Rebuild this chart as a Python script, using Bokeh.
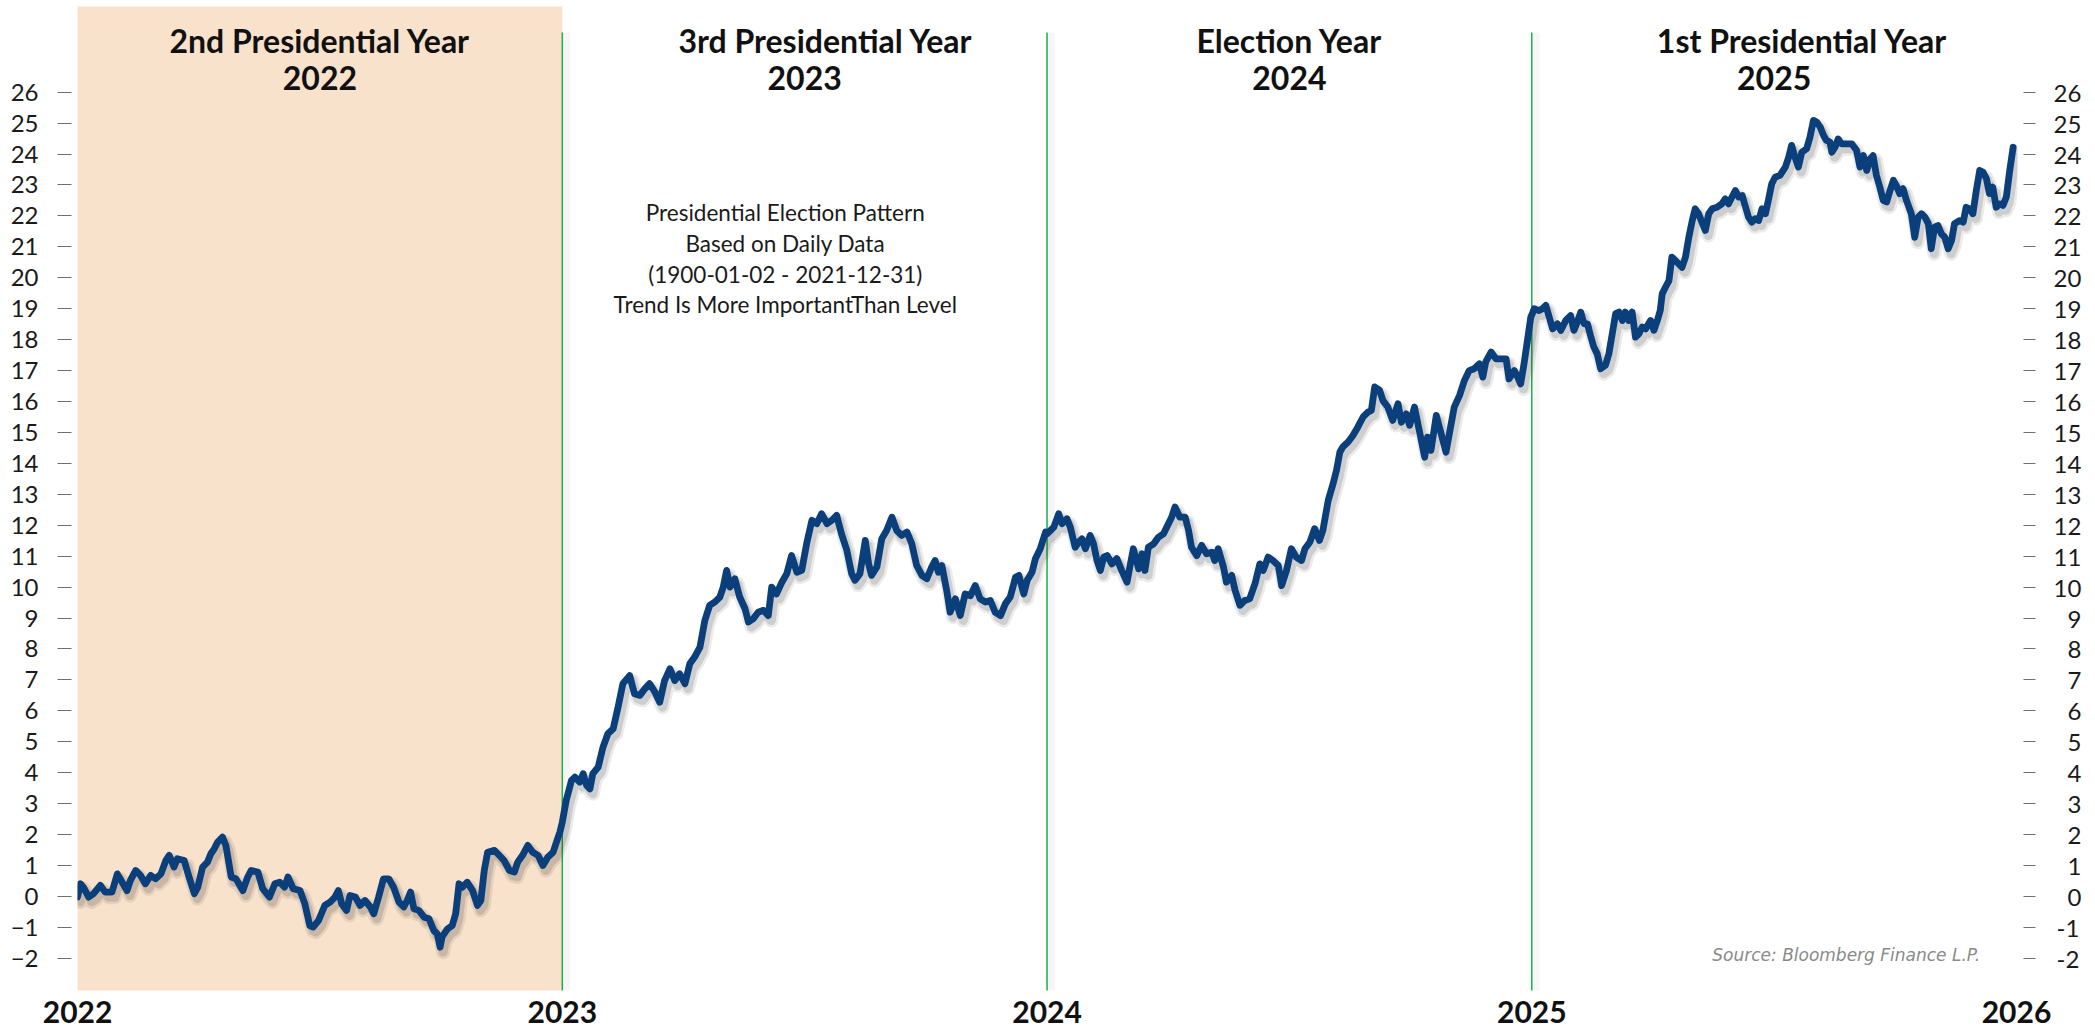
import numpy as np
from bokeh.plotting import figure
from bokeh.models import Range1d, FixedTicker, LinearAxis, ColumnDataSource
from bokeh.core.properties import value
from bokeh.embed import file_html
from bokeh.resources import INLINE

# ---------------- data (fraction of year, index level) ----------------
t22 = [0.000,0.006,0.012,0.023,0.033,0.047,0.057,0.071,0.082,0.092,0.102,0.109,0.120,0.130,0.140,0.151,0.161,0.172,0.182,0.189,
       0.199,0.206,0.220,0.230,0.241,0.248,0.258,0.268,0.275,0.282,0.289,0.299,0.306,0.317,0.327,0.341,0.351,0.358,0.372,0.382,
       0.396,0.407,0.417,0.427,0.434,0.445,0.459,0.469,0.479,0.486,0.497,0.510,0.521,0.531,0.538,0.545,0.555,0.562,0.573,0.583,
       0.593,0.604,0.611,0.621,0.631,0.642,0.652,0.663,0.673,0.680,0.687,0.694,0.704,0.715,0.725,0.735,0.742,0.748,0.752,0.763,
       0.773,0.780,0.787,0.794,0.804,0.815,0.825,0.832,0.839,0.846,0.860,0.870,0.880,0.891,0.901,0.908,0.918,0.929,0.939,0.950,
       0.960,0.970,0.981,0.988,0.995]
v22 = [-0.02,0.41,0.30,-0.02,0.09,0.36,0.14,0.14,0.73,0.46,0.19,0.52,0.84,0.68,0.41,0.68,0.57,0.73,1.16,1.33,
       0.95,1.22,1.16,0.63,0.09,0.30,0.95,1.11,1.38,1.54,1.76,1.92,1.65,0.63,0.57,0.19,0.63,0.84,0.79,0.25,
       -0.02,0.41,0.46,0.30,0.63,0.25,0.19,-0.24,-0.94,-0.99,-0.78,-0.29,-0.18,-0.02,0.19,-0.24,-0.45,0.03,-0.02,-0.29,
       -0.13,-0.34,-0.56,-0.02,0.57,0.57,0.30,-0.18,-0.34,-0.13,0.14,-0.40,-0.45,-0.67,-0.72,-1.10,-1.21,-1.64,-1.31,-1.05,
       -0.94,-0.56,0.41,0.30,0.46,0.19,-0.29,-0.13,0.84,1.43,1.49,1.33,1.16,0.84,0.79,1.11,1.33,1.65,1.43,1.33,
       1.00,1.27,1.43,1.76,2.08]

t23 = [0.000,0.008,0.019,0.026,0.036,0.043,0.050,0.057,0.063,0.074,0.084,
       0.094,0.105,0.115,0.125,0.139,0.149,0.160,0.170,0.180,0.191,
       0.201,0.211,0.222,0.232,0.242,0.253,0.263,0.273,0.284,0.294,
       0.304,0.315,0.325,0.332,0.339,0.346,0.356,0.366,0.377,0.384,
       0.394,0.404,0.415,0.425,0.432,0.442,0.453,0.463,0.473,0.484,
       0.494,0.504,0.515,0.525,0.535,0.546,0.556,0.566,0.576,0.587,
       0.597,0.604,0.614,0.625,0.632,0.638,0.649,0.659,0.669,0.680,
       0.690,0.700,0.711,0.721,0.731,0.742,0.752,0.762,0.769,0.776,
       0.783,0.793,0.800,0.811,0.821,0.831,0.842,0.852,0.862,0.873,
       0.883,0.893,0.904,0.914,0.924,0.935,0.942,0.952,0.959,0.969,
       0.976,0.986,0.997]
v23 = [2.40,3.10,3.75,3.86,3.70,3.97,3.59,3.48,3.97,4.18,4.83,
       5.26,5.42,6.12,6.88,7.14,6.55,6.50,6.71,6.88,6.61,
       6.28,6.98,7.36,6.98,7.20,6.88,7.52,7.74,8.06,8.92,
       9.41,9.52,9.68,10.00,10.54,10.00,10.27,9.68,9.30,8.87,
       8.98,9.19,9.25,9.08,10.00,9.78,10.16,10.43,11.02,10.48,
       10.54,11.40,12.16,12.05,12.37,12.05,12.16,12.32,11.72,11.19,
       10.43,10.22,10.43,11.51,10.75,10.38,10.65,11.56,11.83,12.26,
       11.83,11.67,11.78,11.40,10.70,10.38,10.27,10.65,10.86,10.48,
       10.70,9.89,9.19,9.62,9.08,9.78,9.72,10.05,9.62,9.52,
       9.57,9.19,9.08,9.46,9.68,10.32,10.38,9.78,10.22,10.48,
       10.92,11.24,11.78]

t24 = [0.000,0.007,0.014,0.024,0.031,0.041,0.048,0.058,0.065,0.072,
       0.079,0.089,0.096,0.103,0.110,0.117,0.124,0.134,0.144,0.154,
       0.165,0.172,0.178,0.189,0.196,0.202,0.209,0.220,0.230,0.240,
       0.247,0.257,0.264,0.274,0.285,0.292,0.298,0.309,0.319,0.329,
       0.340,0.346,0.353,0.364,0.370,0.381,0.388,0.398,0.408,0.418,
       0.429,0.439,0.446,0.456,0.466,0.477,0.484,0.494,0.504,0.514,
       0.525,0.532,0.542,0.552,0.562,0.569,0.580,0.590,0.597,0.604,
       0.610,0.621,0.631,0.641,0.652,0.662,0.669,0.676,0.686,0.693,
       0.703,0.713,0.724,0.731,0.741,0.748,0.758,0.768,0.779,0.785,
       0.792,0.803,0.813,0.823,0.830,0.840,0.851,0.861,0.871,0.881,
       0.892,0.899,0.905,0.916,0.926,0.936,0.947,0.953,0.964,0.971,
       0.977,0.984,0.991,0.998]
v24 = [11.72,11.83,11.94,12.37,12.05,12.21,11.94,11.29,11.45,11.56,
       11.24,11.67,11.40,10.86,10.54,10.97,11.02,10.75,10.92,10.54,
       10.16,10.75,11.24,10.59,11.08,10.54,11.29,11.40,11.62,11.72,
       11.94,12.26,12.59,12.26,12.26,11.83,11.29,11.02,11.35,11.08,
       11.13,10.86,11.24,10.65,10.16,10.38,9.89,9.41,9.57,9.62,
       10.11,10.75,10.54,10.97,10.86,10.70,10.05,10.54,11.24,10.97,
       10.86,11.24,11.45,11.89,11.51,11.83,12.80,13.34,13.77,14.36,
       14.53,14.69,14.90,15.17,15.50,15.66,15.71,16.47,16.36,16.03,
       15.82,15.39,15.93,15.33,15.60,15.23,15.82,15.06,14.20,14.85,
       14.42,15.55,14.96,14.36,14.96,15.82,16.20,16.68,17.00,17.06,
       17.22,16.79,17.28,17.60,17.38,17.38,17.38,16.73,17.00,16.79,
       16.57,17.22,17.97,18.73]

t25 = [0.000,
       0.005,0.015,0.022,0.029,0.036,0.043,0.053,0.060,0.070,0.080,
       0.087,0.094,0.101,0.108,0.115,0.121,0.128,0.135,0.142,0.152,
       0.159,0.166,0.173,0.180,0.187,0.193,0.200,0.207,0.214,0.221,
       0.228,0.235,0.245,0.252,0.259,0.265,0.269,0.276,0.283,0.289,
       0.296,0.303,0.310,0.317,0.324,0.331,0.337,0.344,0.351,0.358,
       0.365,0.372,0.382,0.392,0.399,0.406,0.413,0.420,0.427,0.434,
       0.440,0.447,0.454,0.461,0.468,0.475,0.482,0.488,0.495,0.502,
       0.512,0.523,0.530,0.536,0.543,0.550,0.557,0.567,0.574,0.581,
       0.588,0.595,0.602,0.608,0.615,0.619,0.626,0.632,0.639,0.650,
       0.660,0.670,0.677,0.684,0.691,0.698,0.704,0.711,0.718,0.725,
       0.732,0.739,0.746,0.752,0.759,0.766,0.773,0.783,0.790,0.797,
       0.804,0.811,0.818,0.824,0.831,0.838,0.845,0.852,0.859,0.866,
       0.872,0.883,0.890,0.896,0.903,0.910,0.917,0.924,0.931,0.938,
       0.944,0.951,0.958,0.965,0.972,0.979,0.986,0.993]
v25 = [18.80,
       19.00,18.94,19.00,19.11,18.73,18.35,18.51,18.30,18.62,18.78,
       18.30,18.57,18.89,18.51,18.51,18.14,17.76,17.54,17.06,17.17,
       17.54,18.19,18.84,18.89,18.62,18.89,18.62,18.89,18.08,18.19,
       18.41,18.35,18.62,18.30,18.62,18.94,19.48,19.70,19.91,20.67,
       20.56,20.45,20.34,20.67,21.31,21.85,22.23,22.07,21.80,21.53,
       22.07,22.23,22.28,22.39,22.55,22.39,22.61,22.82,22.61,22.66,
       22.34,21.96,21.80,21.91,21.85,22.23,22.07,22.50,23.04,23.25,
       23.31,23.58,23.90,24.28,23.90,23.58,24.06,24.17,24.55,25.09,
       25.03,24.87,24.60,24.44,24.39,24.06,24.23,24.49,24.33,24.33,
       24.33,24.12,23.58,23.95,23.47,23.84,23.95,23.31,22.93,22.50,
       22.45,22.82,23.15,22.98,22.72,22.88,22.50,22.07,21.31,21.96,
       22.07,21.96,21.75,20.94,21.64,21.69,21.42,21.31,20.94,21.21,
       21.75,21.85,21.80,22.28,22.23,22.07,22.82,23.47,23.41,23.20,
       22.72,22.93,22.28,22.39,22.34,22.61,23.47,24.22]

years = [2022, 2023, 2024, 2025, 2026]
year_labels = ["2022", "2023", "2024", "2025", "2026"]
header_line1 = ["2nd Presidential Year", "3rd Presidential Year", "Election Year", "1st Presidential Year"]
header_line2 = ["2022", "2023", "2024", "2025"]
note_lines = ["Presidential Election Pattern", "Based on Daily Data",
              "(1900-01-02 - 2021-12-31)", "Trend Is More ImportantThan Level"]
source_text = "Source: Bloomberg Finance L.P."
y_ticks = list(range(-2, 27))

# ---------------- build series ----------------
x = np.concatenate([2022 + np.array(t22), 2023 + np.array(t23),
                    2024 + np.array(t24), 2025 + np.array(t25)])
y = np.concatenate([v22, v23, v24, v25])
src = ColumnDataSource(dict(x=x, y=y))

X0, X1 = 2021.9999, 2026.002
Y0, Y1 = -3.04, 28.77
FRAME_W, FRAME_H = 1940, 984

p = figure(width=2095, height=1030, output_backend="svg", toolbar_location=None,
           x_range=Range1d(X0, X1), y_range=Range1d(Y0, Y1),
           min_border_left=77, min_border_right=78, min_border_top=6, min_border_bottom=40)
p.outline_line_color = None
p.grid.visible = False
p.background_fill_color = "white"
p.border_fill_color = "white"

# shadow ranges (line shadow offset a few px right/down)
dxs = 3.0 * (X1 - X0) / FRAME_W
dys = 5.0 * (Y1 - Y0) / FRAME_H
p.extra_x_ranges = {"sh": Range1d(X0 - dxs, X1 - dxs), "vsh": Range1d(X0 - 1.3 * dxs, X1 - 1.3 * dxs)}
p.extra_y_ranges = {"sh": Range1d(Y0 + dys, Y1 + dys)}

# shaded 2nd presidential year
p.quad(left=[years[0] - 0.01], right=[years[1]], bottom=[Y0 - 1], top=[Y1 + 1],
       fill_color="#F9E2CC", line_color=None)

# vertical separators with a faint shadow
sep = dict(x0=years[1:4], x1=years[1:4], y0=[Y0 - 1] * 3, y1=[27.93] * 3)
p.segment(source=ColumnDataSource(sep), x0="x0", y0="y0", x1="x1", y1="y1",
          line_color="#000000", line_alpha=0.035, line_width=8, x_range_name="vsh")
p.segment(source=ColumnDataSource(sep), x0="x0", y0="y0", x1="x1", y1="y1",
          line_color="#1DB04B", line_width=1.5)

# line shadow
p.line("x", "y", source=src, line_color="#000000", line_alpha=0.08, line_width=14,
       line_join="round", line_cap="round", x_range_name="sh", y_range_name="sh")
p.line("x", "y", source=src, line_color="#000000", line_alpha=0.12, line_width=9,
       line_join="round", line_cap="round", x_range_name="sh", y_range_name="sh")
# main line
p.line("x", "y", source=src, line_color="#0A3F7C", line_width=6.8,
       line_join="round", line_cap="round")

# headers
hx = [yr + 0.5 for yr in years[:4]]
hoff = [0, 21, 0, 28]
p.text(x=hx, y=[27.67] * 4, text=header_line1, x_offset=hoff,
       text_font=value("Lato"), text_font_style="bold", text_font_size="32px",
       text_align="center", text_baseline="middle", text_color="#111111")
p.text(x=hx, y=[26.46] * 4, text=header_line2,
       text_font=value("Lato"), text_font_style="bold", text_font_size="32px",
       text_align="center", text_baseline="middle", text_color="#111111")

# note
p.text(x=[2023.46] * 4, y=[22.11, 21.12, 20.12, 19.13], text=note_lines,
       text_font=value("Lato"), text_font_size="22.5px",
       text_align="center", text_baseline="middle", text_color="#1a1a1a")

# source
p.text(x=[2025.925], y=[-1.9], text=[source_text],
       text_font=value("DejaVu Sans"), text_font_style="italic", text_font_size="17px",
       text_align="right", text_baseline="middle", text_color="#8a8a8a")

# axes
def style_y(ax, tick_out, standoff):
    ax.ticker = FixedTicker(ticks=y_ticks)
    ax.axis_line_color = None
    ax.major_tick_in = -6
    ax.major_tick_out = tick_out
    ax.minor_tick_in = 0
    ax.minor_tick_out = 0
    ax.major_tick_line_color = "#707070"
    ax.major_tick_line_width = 1
    ax.major_label_standoff = standoff
    ax.major_label_text_font = "Lato"
    ax.major_label_text_font_size = "24px"
    ax.major_label_text_color = "#1a1a1a"

style_y(p.yaxis[0], 20, 19)

ry = LinearAxis()
style_y(ry, 18, 18)
ry.major_label_overrides = {t: ("\u2007" + str(t) if 0 <= t <= 9 else ("\u2009" + str(t) if t < 0 else str(t)))
                            for t in y_ticks}
p.add_layout(ry, "right")

xa = p.xaxis[0]
xa.ticker = FixedTicker(ticks=years)
xa.major_label_overrides = {yr: lab for yr, lab in zip(years, year_labels)}
xa.axis_line_color = None
xa.major_tick_in = 0
xa.major_tick_out = 0
xa.minor_tick_in = 0
xa.minor_tick_out = 0
xa.major_label_standoff = 10
xa.major_label_text_font = "Lato"
xa.major_label_text_font_style = "bold"
xa.major_label_text_font_size = "30px"
xa.major_label_text_color = "#111111"

open("out.html", "w").write(file_html(p, INLINE))
